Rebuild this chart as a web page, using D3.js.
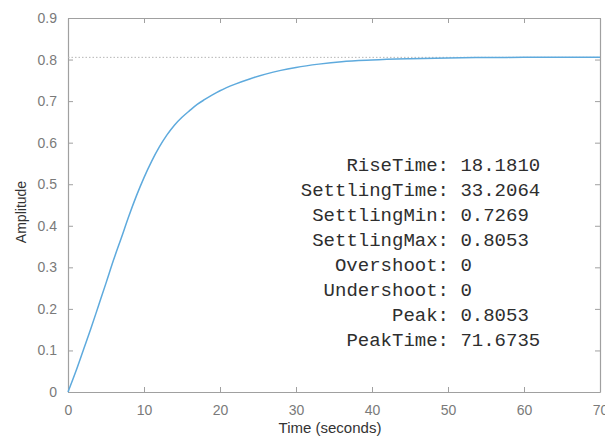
<!DOCTYPE html>
<html>
<head>
<meta charset="utf-8">
<script src="https://cdn.jsdelivr.net/npm/d3@7/dist/d3.min.js"></script>
<style>
  html, body { margin: 0; padding: 0; background: #fff; }
  svg { display: block; }
</style>
</head>
<body>
<svg id="chart" width="605" height="440"></svg>
<script>
// Step response samples: time (s) and amplitude
const timeSec = [0, 1, 2, 3, 4, 5, 6, 7, 8, 9, 10, 11, 12, 13, 14, 15, 16, 17, 18, 19, 20,
                 22, 24, 26, 28, 30, 33, 36, 40, 45, 50, 55, 60, 65, 70];
const amplitude = [0, 0.048, 0.100, 0.152, 0.207, 0.262, 0.318, 0.370, 0.423, 0.472, 0.516,
                   0.555, 0.589, 0.618, 0.642, 0.661, 0.677, 0.692, 0.704, 0.715, 0.725,
                   0.741, 0.754, 0.765, 0.774, 0.781, 0.789, 0.795, 0.799, 0.802, 0.804,
                   0.805, 0.8053, 0.8053, 0.8053];
const steadyState = 0.8053;

// Axis ticks
const xTicks = [0, 10, 20, 30, 40, 50, 60, 70];
const yTicks = [0, 0.1, 0.2, 0.3, 0.4, 0.5, 0.6, 0.7, 0.8, 0.9];

// Step-info readout
const infoLabels = ["RiseTime", "SettlingTime", "SettlingMin", "SettlingMax",
                    "Overshoot", "Undershoot", "Peak", "PeakTime"];
const infoValues = ["18.1810", "33.2064", "0.7269", "0.8053", "0", "0", "0.8053", "71.6735"];

const svg = d3.select("#chart");
const plotLeft = 68, plotRight = 600, plotTop = 18, plotBottom = 392;

const x = d3.scaleLinear().domain([0, 70]).range([plotLeft, plotRight]);
const y = d3.scaleLinear().domain([0, 0.9]).range([plotBottom, plotTop]);

const axisColor = "#a0a0a0";
const tickLen = 5;

// Bottom and top axes (ticks pointing inward)
const gx = svg.append("g").attr("transform", `translate(0,${plotBottom})`)
  .call(d3.axisBottom(x).tickValues(xTicks).tickSizeInner(-tickLen).tickSizeOuter(0)
        .tickPadding(13).tickFormat(d3.format("d")));
const gxTop = svg.append("g").attr("transform", `translate(0,${plotTop})`)
  .call(d3.axisTop(x).tickValues(xTicks).tickSizeInner(-tickLen).tickSizeOuter(0).tickFormat(""));

// Left and right axes
const gy = svg.append("g").attr("transform", `translate(${plotLeft},0)`)
  .call(d3.axisLeft(y).tickValues(yTicks).tickSizeInner(-tickLen).tickSizeOuter(0)
        .tickPadding(11).tickFormat(d => d === 0 ? "0" : d3.format(".1f")(d)));
const gyRight = svg.append("g").attr("transform", `translate(${plotRight},0)`)
  .call(d3.axisRight(y).tickValues(yTicks).tickSizeInner(-tickLen).tickSizeOuter(0).tickFormat(""));

[gx, gxTop, gy, gyRight].forEach(g => {
  g.select(".domain").attr("stroke", axisColor).attr("stroke-width", 1.2);
  g.selectAll(".tick line").attr("stroke", axisColor);
  g.selectAll(".tick text")
    .attr("fill", "#7a7a7a")
    .style("font-family", "'Liberation Sans', Arial, sans-serif")
    .style("font-size", "14px");
});

// Steady-state reference line
svg.append("line")
  .attr("x1", x(0)).attr("x2", x(70))
  .attr("y1", y(steadyState)).attr("y2", y(steadyState))
  .attr("stroke", "#b5b5b5").attr("stroke-width", 1)
  .attr("stroke-dasharray", "1.5,2");

// Response curve
const pts = timeSec.map((t, i) => [t, amplitude[i]]);
svg.append("path")
  .datum(pts)
  .attr("fill", "none")
  .attr("stroke", "#5eaadd")
  .attr("stroke-width", 1.5)
  .attr("d", d3.line().x(d => x(d[0])).y(d => y(d[1])).curve(d3.curveMonotoneX));

// Axis titles
svg.append("text")
  .attr("x", (plotLeft + plotRight) / 2 - 4).attr("y", 433)
  .attr("text-anchor", "middle")
  .attr("fill", "#333")
  .style("font-family", "'Liberation Sans', Arial, sans-serif")
  .style("font-size", "15px")
  .text("Time (seconds)");

svg.append("text")
  .attr("transform", `translate(26,${(plotTop + plotBottom) / 2 + 7}) rotate(-90)`)
  .attr("text-anchor", "middle")
  .attr("fill", "#333")
  .style("font-family", "'Liberation Sans', Arial, sans-serif")
  .style("font-size", "14px")
  .text("Amplitude");

// Step-info block, colons aligned in one column
const info = svg.append("g")
  .style("font-family", "'Liberation Mono', 'Courier New', monospace")
  .style("font-size", "19px")
  .attr("fill", "#2e2e2e");
const colonX = 449, rowTop = 171, rowStep = 25;
infoLabels.forEach((lab, i) => {
  info.append("text").attr("x", colonX).attr("y", rowTop + i * rowStep)
    .attr("text-anchor", "end").text(lab + ":");
  info.append("text").attr("x", colonX + 11.4).attr("y", rowTop + i * rowStep)
    .text(infoValues[i]);
});
</script>
</body>
</html>
